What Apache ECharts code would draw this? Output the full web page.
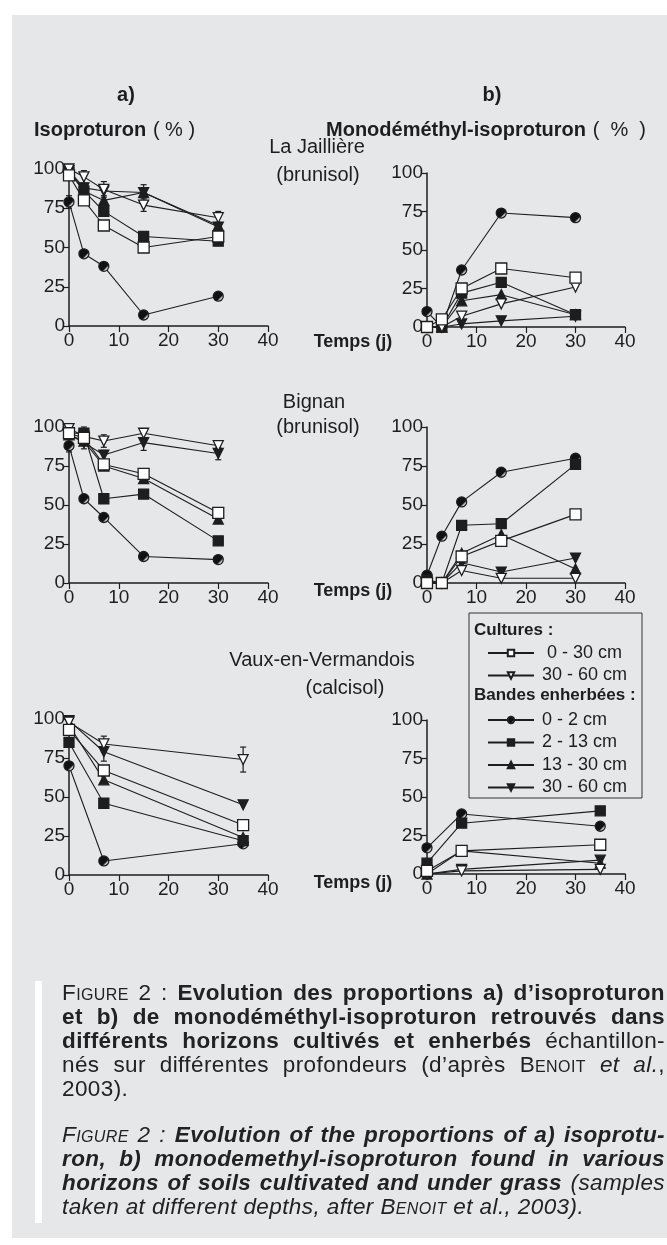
<!DOCTYPE html>
<html><head><meta charset="utf-8">
<script src="https://cdn.jsdelivr.net/npm/echarts/dist/echarts.min.js"></script>
<style>
html,body{margin:0;padding:0;background:#fff;}
#chart{position:absolute;left:0;top:0;width:667px;height:1245px;}
#cap{position:absolute;left:62px;top:981px;width:603px;font-family:'Liberation Sans',Arial,sans-serif;font-size:22.5px;line-height:24px;color:#222;letter-spacing:0.4px;}
#cap div{white-space:nowrap;}
#cap .j{text-align:justify;text-align-last:justify;}
#cap .sc{font-variant:small-caps;}
#cap .gap{height:22px;}
</style>
</head><body>
<div id="chart"></div>
<div id="cap">
<div class="j"><span class="sc">Figure</span> 2 : <b>Evolution des proportions a) d’isoproturon</b></div>
<div class="j"><b>et b) de monodéméthyl-isoproturon retrouvés dans</b></div>
<div class="j"><b>différents horizons cultivés et enherbés</b> échantillon-</div>
<div class="j">nés sur différentes profondeurs (d’après <span class="sc">Benoit</span> <i>et al.</i>,</div>
<div>2003).</div>
<div class="gap"></div>
<div class="j"><i><span class="sc">Figure</span> 2 : <b>Evolution of the proportions of a) isoprotu-</b></i></div>
<div class="j"><i><b>ron, b) monodemethyl-isoproturon found in various</b></i></div>
<div class="j"><i><b>horizons of soils cultivated and under grass</b> (samples</i></div>
<div><i>taken at different depths, after <span class="sc">Benoit</span> et al., 2003).</i></div>
</div>
<script>
// ---------- DATA ----------
const xTicks = [0, 10, 20, 30, 40];
const yTicks = [0, 25, 50, 75, 100];
const seriesNames = ['Bandes 0 - 2 cm','Bandes 2 - 13 cm','Bandes 13 - 30 cm','Bandes 30 - 60 cm','Cultures 30 - 60 cm','Cultures 0 - 30 cm'];
const legendLabels = {'Cultures 0 - 30 cm':' 0 - 30 cm','Cultures 30 - 60 cm':'30 - 60 cm','Bandes 0 - 2 cm':'0 - 2 cm','Bandes 2 - 13 cm':'2 - 13 cm','Bandes 13 - 30 cm':'13 - 30 cm','Bandes 30 - 60 cm':'30 - 60 cm'};

// La Jaillière
const daysLJ = [0, 3, 7, 15, 30];
const isoLJ_b0_2   = [79, 46, 38, 7, 19];
const isoLJ_b2_13  = [98, 86, 73, 57, 54];
const isoLJ_b13_30 = [99, 86, 80, 85, 64];
const isoLJ_b30_60 = [99, 88, 86, 85, 63];
const isoLJ_c30_60 = [100, 95, 87, 77, 69];
const isoLJ_c0_30  = [96, 80, 64, 50, 57];
const isoLJ_err = [[0,79,4],[3,95,4],[7,87,5],[15,77,4],[30,69,4],[15,85,5],[3,86,3],[7,80,3],[30,63,3],[7,64,3],[15,57,3]];
const mdmLJ_b0_2   = [10, 0, 37, 74, 71];
const mdmLJ_b2_13  = [0, 0, 22, 29, 8];
const mdmLJ_b13_30 = [0, 0, 17, 21, 8];
const mdmLJ_b30_60 = [0, 0, 2, 4, 7];
const mdmLJ_c30_60 = [0, 0, 7, 15, 26];
const mdmLJ_c0_30  = [0, 5, 25, 38, 32];

// Bignan
const daysBI = [0, 3, 7, 15, 30];
const isoBI_b0_2   = [88, 54, 42, 17, 15];
const isoBI_b2_13  = [96, 96, 54, 57, 27];
const isoBI_b13_30 = [95, 91, 75, 67, 41];
const isoBI_b30_60 = [95, 90, 82, 90, 83];
const isoBI_c30_60 = [99, 94, 91, 96, 88];
const isoBI_c0_30  = [96, 93, 76, 70, 45];
const isoBI_err = [[3,96,4],[3,90,4],[7,91,4],[7,82,3],[15,96,3],[15,89,4],[30,88,3],[30,83,4],[15,70,3],[0,88,4],[0,97,3]];
const mdmBI_b0_2   = [5, 30, 52, 71, 80];
const mdmBI_b2_13  = [2, 0, 37, 38, 76];
const mdmBI_b13_30 = [0, 0, 19, 31, 9];
const mdmBI_b30_60 = [0, 0, 13, 7, 16];
const mdmBI_c30_60 = [0, 0, 8, 3, 3];
const mdmBI_c0_30  = [0, 0, 17, 27, 44];

// Vaux-en-Vermandois
const daysVV = [0, 7, 35];
const isoVV_b0_2   = [70, 9, 20];
const isoVV_b2_13  = [85, 46, 22];
const isoVV_b13_30 = [96, 61, 24];
const isoVV_b30_60 = [99, 79, 45];
const isoVV_c30_60 = [98, 84, 74];
const isoVV_c0_30  = [93, 67, 32];
const isoVV_err = [[7,84,5],[7,79,6],[35,74,8],[0,98,2]];
const mdmVV_b0_2   = [17, 39, 31];
const mdmVV_b2_13  = [7, 33, 41];
const mdmVV_b13_30 = [0, 15, 7];
const mdmVV_b30_60 = [0, 3, 9];
const mdmVV_c30_60 = [0, 2, 3];
const mdmVV_c0_30  = [2, 15, 19];

// ---------- CHART ----------
const FONT = "'Liberation Sans', Arial, sans-serif";
const INK = '#1e1e1e';
const panels = [
  {grid:{left:69, top:169, width:199, height:157}, days:daysLJ, sets:[isoLJ_b0_2,isoLJ_b2_13,isoLJ_b13_30,isoLJ_b30_60,isoLJ_c30_60,isoLJ_c0_30], err:isoLJ_err},
  {grid:{left:427, top:173, width:198, height:154}, days:daysLJ, sets:[mdmLJ_b0_2,mdmLJ_b2_13,mdmLJ_b13_30,mdmLJ_b30_60,mdmLJ_c30_60,mdmLJ_c0_30]},
  {grid:{left:69, top:427, width:199, height:156}, days:daysBI, sets:[isoBI_b0_2,isoBI_b2_13,isoBI_b13_30,isoBI_b30_60,isoBI_c30_60,isoBI_c0_30], err:isoBI_err},
  {grid:{left:427, top:427, width:198, height:156}, days:daysBI, sets:[mdmBI_b0_2,mdmBI_b2_13,mdmBI_b13_30,mdmBI_b30_60,mdmBI_c30_60,mdmBI_c0_30]},
  {grid:{left:69, top:719, width:199, height:156}, days:daysVV, sets:[isoVV_b0_2,isoVV_b2_13,isoVV_b13_30,isoVV_b30_60,isoVV_c30_60,isoVV_c0_30], err:isoVV_err},
  {grid:{left:427, top:720, width:198, height:154}, days:daysVV, sets:[mdmVV_b0_2,mdmVV_b2_13,mdmVV_b13_30,mdmVV_b30_60,mdmVV_c30_60,mdmVV_c0_30]}
];

const circleFill = {type:'linear', x:0, y:0, x2:1, y2:1, colorStops:[{offset:0,color:'#111'},{offset:0.62,color:'#111'},{offset:0.72,color:'#cfcfcf'},{offset:1,color:'#fff'}]};
const styles = {
  'Bandes 0 - 2 cm':    {symbol:'circle', rot:0, size:10, fill:circleFill},
  'Bandes 2 - 13 cm':   {symbol:'rect', rot:0, size:10, fill:INK},
  'Bandes 13 - 30 cm':  {symbol:'triangle', rot:0, size:10, fill:INK},
  'Bandes 30 - 60 cm':  {symbol:'triangle', rot:180, size:10, fill:INK},
  'Cultures 30 - 60 cm':{symbol:'triangle', rot:180, size:10, fill:'#fff'},
  'Cultures 0 - 30 cm': {symbol:'rect', rot:0, size:11, fill:'#fff'}
};

const grids = [], xAxes = [], yAxes = [], series = [];
const axisText = {color:INK, fontFamily:FONT, fontSize:19};
panels.forEach((p, i) => {
  grids.push(p.grid);
  xAxes.push({gridIndex:i, type:'value', min:xTicks[0], max:xTicks[xTicks.length-1], interval:xTicks[1]-xTicks[0],
    axisLine:{show:true, onZero:false, lineStyle:{color:INK, width:1.5}},
    axisTick:{show:true, length:6, lineStyle:{color:INK, width:1.2}},
    axisLabel:Object.assign({margin:5}, axisText), splitLine:{show:false}});
  yAxes.push({gridIndex:i, type:'value', min:yTicks[0], max:yTicks[yTicks.length-1], interval:yTicks[1]-yTicks[0],
    axisLine:{show:true, onZero:false, lineStyle:{color:INK, width:1.5}},
    axisTick:{show:true, length:5, lineStyle:{color:INK, width:1.2}},
    axisLabel:Object.assign({margin:4}, axisText), splitLine:{show:false}});
  if (p.err) {
    series.push({type:'custom', xAxisIndex:i, yAxisIndex:i, data:p.err, silent:true, z:1, clip:false,
      encode:{x:0, y:1},
      renderItem:(params, api) => {
        const x = api.value(0), y = api.value(1), e = api.value(2);
        const a = api.coord([x, y + e]), b = api.coord([x, y - e]);
        const st = {stroke:INK, lineWidth:1.2};
        return {type:'group', children:[
          {type:'line', shape:{x1:a[0], y1:a[1], x2:b[0], y2:b[1]}, style:st},
          {type:'line', shape:{x1:a[0]-3, y1:a[1], x2:a[0]+3, y2:a[1]}, style:st},
          {type:'line', shape:{x1:b[0]-3, y1:b[1], x2:b[0]+3, y2:b[1]}, style:st}
        ]};
      }});
  }
  seriesNames.forEach((name, k) => {
    const s = styles[name];
    series.push({type:'line', name:name, xAxisIndex:i, yAxisIndex:i, clip:false, z:3+k,
      data:p.days.map((d, j) => [d, p.sets[k][j]]),
      symbol:s.symbol, symbolSize:s.size, symbolRotate:s.rot, showSymbol:true,
      lineStyle:{color:INK, width:1.1},
      itemStyle:{color:s.fill, borderColor:INK, borderWidth:1.3},
      emphasis:{disabled:true}, animation:false});
  });
});

const legendCommon = {orient:'vertical', itemWidth:46, itemHeight:8, itemGap:4.5, selectedMode:false,
  textStyle:{color:INK, fontFamily:FONT, fontSize:18, lineHeight:18, padding:[0,0,0,3]}, formatter:n => legendLabels[n], symbolRotate:'inherit'};

const T = (x, y, text, opts) => Object.assign({type:'text', x:x, y:y,
  style:Object.assign({text:text, fill:INK, font:"20px " + FONT, align:'center', verticalAlign:'middle'}, opts||{})});

const option = {
  animation:false,
  grid:grids, xAxis:xAxes, yAxis:yAxes, series:series,
  legend:[
    Object.assign({left:482, top:639, data:['Cultures 0 - 30 cm','Cultures 30 - 60 cm']}, legendCommon),
    Object.assign({left:482, top:706, data:['Bandes 0 - 2 cm','Bandes 2 - 13 cm','Bandes 13 - 30 cm','Bandes 30 - 60 cm']}, legendCommon)
  ],
  graphic:[
    {type:'rect', z:-10, shape:{x:12, y:15, width:655, height:1223}, style:{fill:'#e6e7e9'}},
    {type:'rect', z:-9, shape:{x:35, y:981, width:7, height:242}, style:{fill:'#ffffff'}},
    T(126, 95, 'a)', {font:"bold 20px " + FONT}),
    T(492, 95, 'b)', {font:"bold 20px " + FONT}),
    {type:'text', x:34, y:130, style:{text:'{b|Isoproturon}  {n|( % )}', align:'left', verticalAlign:'middle',
      rich:{b:{font:"bold 20px " + FONT, fill:INK}, n:{font:"20px " + FONT, fill:INK}}}},
    {type:'text', x:326, y:130, style:{text:'{b|Monodéméthyl-isoproturon}  {n|(  %  )}', align:'left', verticalAlign:'middle',
      rich:{b:{font:"bold 20px " + FONT, fill:INK}, n:{font:"20px " + FONT, fill:INK}}}},
    T(317, 147, 'La Jaillière'), T(318, 175, '(brunisol)'),
    T(314, 402, 'Bignan'), T(318, 427, '(brunisol)'),
    T(322, 660, 'Vaux-en-Vermandois'), T(345, 688, '(calcisol)'),
    T(353, 342, 'Temps (j)', {font:"bold 18px " + FONT}),
    T(353, 591, 'Temps (j)', {font:"bold 18px " + FONT}),
    T(353, 883, 'Temps (j)', {font:"bold 18px " + FONT}),
    {type:'rect', z:-5, shape:{x:469, y:613, width:173, height:185}, style:{fill:'#e6e7e9', stroke:'#333', lineWidth:1}},
    T(474, 630, 'Cultures :', {font:"bold 17px " + FONT, align:'left'}),
    T(474, 695, 'Bandes enherbées :', {font:"bold 17px " + FONT, align:'left'})
  ]
};
const chart = echarts.init(document.getElementById('chart'), null, {renderer:'canvas'});
chart.setOption(option);
</script>
</body></html>
